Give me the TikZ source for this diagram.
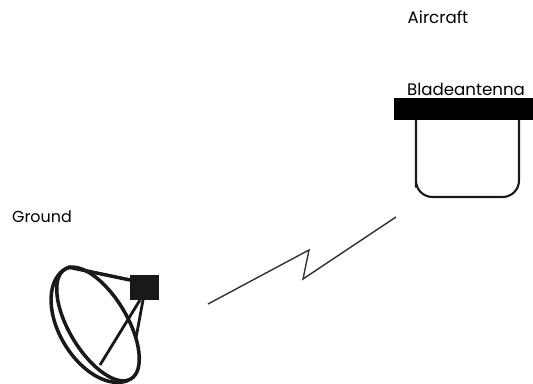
\documentclass[tikz,border=0pt]{standalone}
\usepackage{fontspec}
\setmainfont{Poppins}
\usepackage{tikz}
\usetikzlibrary{arrows,shapes}

\begin{document}
\begin{tikzpicture}[x=0.03cm,y=0.03cm]
                \tikzstyle{lbl}=[font=\fontsize{14.2}{16}\selectfont,inner sep=0pt]
                \tikzstyle{dishline}=[line width=3pt,color=black!90]
                \tikzstyle{bolt}=[line width=1.2pt,color=black!80,line join=miter]
                \useasboundingbox (0,0) rectangle (533,383);

                % lightning between ground and aircraft
                \coordinate (L1) at (208,79);
                \coordinate (L2) at (309,133);
                \coordinate (L3) at (303,104);
                \coordinate (L4) at (396,166);

                % feed horn and its struts
                \coordinate (F1) at (140,83);
                \coordinate (F2) at (143,83);
                \coordinate (T) at (68,116);
                \coordinate (Tb) at (130,103);
                \coordinate (Ra) at (100,18);
                \coordinate (Rb) at (136,45);

                \node[lbl] (aircraft) at (438,366) {Aircraft};
                \node[lbl] (blade) at (466,294) {Bladeantenna};
                \node[lbl,font=\fontsize{13.6}{16}\selectfont] (ground) at (42,166) {Ground};

                % blade antenna on the fuselage
                \fill[black] (394,263) rectangle (533,285);
                \draw[line width=1.8pt,black!90] (416,263) [rounded corners=4] -- (416,200)
                    [rounded corners=14] -- (416,186) -- (519,186) [rounded corners=4] -- (519,263);

                % dish
                \begin{scope}[shift={(98,59)},rotate=-59]
                \draw[dishline] (0,0) ellipse [x radius=64,y radius=29];
                \draw[dishline] (172:64 and 39) arc [start angle=172,end angle=356,x radius=64,y radius=39];
                \end{scope}
                \fill[black!90] (130,83) rectangle (159,108);
                \draw[dishline] (T) -- (Tb);
                \draw[dishline,line width=2.4pt] (F1) -- (Ra);
                \draw[dishline,line width=2.4pt] (F2) -- (Rb);

                \draw[bolt] (L1) -- (L2) -- (L3) -- (L4);
\end{tikzpicture}
\end{document}
